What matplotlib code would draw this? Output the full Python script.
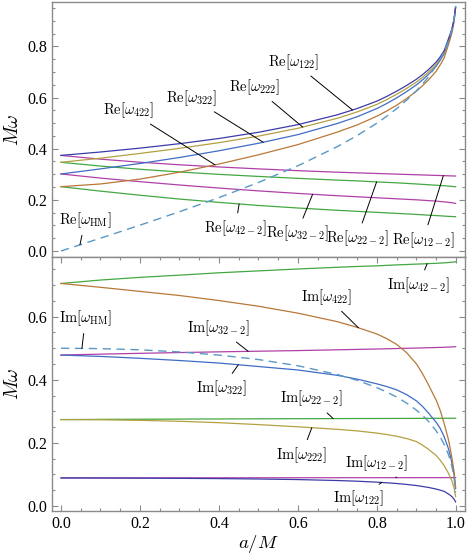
import numpy as np
import matplotlib
matplotlib.use('Agg')
import matplotlib.pyplot as plt
from matplotlib.ticker import MultipleLocator, FormatStrFormatter

plt.rcParams.update({
    'font.family': 'serif',
    'font.serif': ['Liberation Serif', 'DejaVu Serif'],
    'mathtext.fontset': 'cm',
    'font.size': 11,
})

# ── Data ──────────────────────────────────────────────────────────────────────
a_vals = [0.0, 0.1, 0.2, 0.3, 0.4, 0.5, 0.6, 0.7, 0.75, 0.8, 0.825, 0.85, 0.875, 0.9,
          0.915, 0.93, 0.95, 0.96, 0.97, 0.98, 0.985, 0.99, 0.995, 0.999]

# real parts, co-rotating (m = 2)
re_122 = [0.3737, 0.3870, 0.4021, 0.4195, 0.4398, 0.4641, 0.4940, 0.5326, 0.5570, 0.5860,
          0.6045, 0.6248, 0.6470, 0.6716, 0.6890, 0.7086, 0.7386, 0.7590, 0.7830, 0.8254,
          0.8470, 0.8710, 0.9050, 0.9540]
re_222 = [0.3467, 0.3627, 0.3814, 0.4013, 0.4235, 0.4490, 0.4797, 0.5190, 0.5438, 0.5733,
          0.5920, 0.6128, 0.6355, 0.6606, 0.6785, 0.6986, 0.7296, 0.7512, 0.7755, 0.8194,
          0.8420, 0.8670, 0.9025, 0.9530]
re_322 = [0.3011, 0.3210, 0.3421, 0.3655, 0.3918, 0.4211, 0.4550, 0.4986, 0.5250, 0.5570,
          0.5768, 0.5988, 0.6230, 0.6496, 0.6686, 0.6896, 0.7226, 0.7455, 0.7710, 0.8154,
          0.8385, 0.8640, 0.9010, 0.9520]
re_422 = [0.2515, 0.2620, 0.2810, 0.3080, 0.3400, 0.3760, 0.4160, 0.4650, 0.4930, 0.5270,
          0.5475, 0.5700, 0.5960, 0.6250, 0.6455, 0.6680, 0.7030, 0.7275, 0.7550, 0.8020,
          0.8270, 0.8540, 0.8950, 0.9500]
re_hm = [0.0, 0.0501, 0.1010, 0.1535, 0.2087, 0.2679, 0.3333, 0.4084, 0.4514, 0.5000,
         0.5271, 0.5567, 0.5896, 0.6268, 0.6520, 0.6800, 0.7240, 0.7500, 0.7803, 0.8173,
         0.8400, 0.8676, 0.9046, 0.9562]

# real parts, counter-rotating (m = -2)
re_12m2 = [0.3737, 0.3590, 0.3470, 0.3370, 0.3285, 0.3210, 0.3140, 0.3080, 0.3055, 0.3030,
           0.3018, 0.3005, 0.2992, 0.2980, 0.2972, 0.2965, 0.2955, 0.2950, 0.2945, 0.2940,
           0.2937, 0.2935, 0.2932, 0.2930]
re_22m2 = [0.3467, 0.3320, 0.3195, 0.3090, 0.2995, 0.2915, 0.2840, 0.2770, 0.2740, 0.2700,
           0.2683, 0.2665, 0.2643, 0.2620, 0.2605, 0.2590, 0.2570, 0.2560, 0.2550, 0.2540,
           0.2532, 0.2525, 0.2518, 0.2510]
re_32m2 = [0.3011, 0.2850, 0.2710, 0.2580, 0.2460, 0.2350, 0.2250, 0.2160, 0.2120, 0.2080,
           0.2060, 0.2040, 0.2020, 0.2000, 0.1985, 0.1970, 0.1950, 0.1935, 0.1920, 0.1905,
           0.1895, 0.1885, 0.1872, 0.1860]
re_42m2 = [0.2515, 0.2340, 0.2180, 0.2030, 0.1900, 0.1780, 0.1680, 0.1590, 0.1550, 0.1510,
           0.1490, 0.1470, 0.1450, 0.1430, 0.1415, 0.1400, 0.1385, 0.1375, 0.1365, 0.1355,
           0.1351, 0.1347, 0.1343, 0.1340]

# imaginary parts, co-rotating
im_122 = [0.0890, 0.0887, 0.0883, 0.0877, 0.0869, 0.0856, 0.0838, 0.0808, 0.0786, 0.0756,
          0.0736, 0.0713, 0.0684, 0.0649, 0.0620, 0.0590, 0.0537, 0.0503, 0.0465, 0.0388,
          0.0345, 0.0294, 0.0220, 0.0130]
im_222 = [0.2739, 0.2733, 0.2715, 0.2685, 0.2640, 0.2580, 0.2510, 0.2430, 0.2380, 0.2310,
          0.2265, 0.2210, 0.2140, 0.2040, 0.1930, 0.1800, 0.1600, 0.1450, 0.1280, 0.1060,
          0.0930, 0.0780, 0.0580, 0.0300]
im_322 = [0.4783, 0.4740, 0.4680, 0.4610, 0.4530, 0.4420, 0.4310, 0.4140, 0.4020, 0.3870,
          0.3785, 0.3680, 0.3530, 0.3330, 0.3160, 0.2950, 0.2650, 0.2460, 0.2200, 0.1850,
          0.1630, 0.1350, 0.1000, 0.0550]
im_422 = [0.7051, 0.6930, 0.6800, 0.6670, 0.6510, 0.6330, 0.6110, 0.5840, 0.5660, 0.5450,
          0.5300, 0.5120, 0.4860, 0.4500, 0.4200, 0.3850, 0.3350, 0.3030, 0.2620, 0.2150,
          0.1850, 0.1500, 0.1100, 0.0600]
im_hm = [0.5000, 0.4987, 0.4949, 0.4882, 0.4782, 0.4641, 0.4444, 0.4166, 0.3981, 0.3750,
         0.3611, 0.3450, 0.3262, 0.3036, 0.2875, 0.2688, 0.2380, 0.2188, 0.1956, 0.1660,
         0.1472, 0.1236, 0.0908, 0.0428]

# imaginary parts, counter-rotating
im_12m2 = [0.0890, 0.0891, 0.0892, 0.0893, 0.0894, 0.0895, 0.0896, 0.0897, 0.0897, 0.0898,
           0.0898, 0.0898, 0.0898, 0.0899, 0.0899, 0.0899, 0.0899, 0.0900, 0.0900, 0.0900,
           0.0900, 0.0900, 0.0900, 0.0900]
im_22m2 = [0.2739, 0.2745, 0.2750, 0.2755, 0.2759, 0.2763, 0.2767, 0.2770, 0.2772, 0.2773,
           0.2774, 0.2775, 0.2776, 0.2777, 0.2777, 0.2778, 0.2779, 0.2779, 0.2780, 0.2780,
           0.2780, 0.2781, 0.2781, 0.2781]
im_32m2 = [0.4783, 0.4812, 0.4838, 0.4862, 0.4885, 0.4905, 0.4925, 0.4950, 0.4962, 0.4975,
           0.4982, 0.4990, 0.4998, 0.5005, 0.5010, 0.5015, 0.5022, 0.5026, 0.5030, 0.5035,
           0.5038, 0.5040, 0.5045, 0.5050]
im_42m2 = [0.7051, 0.7160, 0.7245, 0.7315, 0.7390, 0.7450, 0.7510, 0.7565, 0.7590, 0.7610,
           0.7625, 0.7640, 0.7652, 0.7665, 0.7672, 0.7680, 0.7690, 0.7698, 0.7705, 0.7715,
           0.7720, 0.7725, 0.7730, 0.7740]

# ── Colours ───────────────────────────────────────────────────────────────────
c_n0 = '#3c3ca8'
c_n1 = '#b4a040'
c_n2 = '#3f6cc4'
c_n3 = '#b87838'
c_pink = '#b040a8'
c_green = '#42a842'
c_hm = '#5a98c6'

re_series = [(re_12m2, c_pink), (re_22m2, c_green), (re_32m2, c_pink), (re_42m2, c_green),
             (re_422, c_n3), (re_322, c_n2), (re_222, c_n1), (re_122, c_n0)]
im_series = [(im_12m2, c_pink), (im_22m2, c_green), (im_32m2, c_pink), (im_42m2, c_green),
             (im_122, c_n0), (im_222, c_n1), (im_322, c_n2), (im_422, c_n3)]

# label text, series, a at pointer tip, text position (a, y)
re_labels = [
    (r'$\mathrm{Re}[\omega_{122}]$', re_122, 0.738, (0.588, 0.740)),
    (r'$\mathrm{Re}[\omega_{222}]$', re_222, 0.612, (0.491, 0.641)),
    (r'$\mathrm{Re}[\omega_{322}]$', re_322, 0.512, (0.331, 0.599)),
    (r'$\mathrm{Re}[\omega_{422}]$', re_422, 0.390, (0.170, 0.551)),
    (r'$\mathrm{Re}[\omega_{\mathrm{HM}}]$', re_hm, 0.048, (0.061, 0.121)),
    (r'$\mathrm{Re}[\omega_{42-2}]$', re_42m2, 0.451, (0.441, 0.089)),
    (r'$\mathrm{Re}[\omega_{32-2}]$', re_32m2, 0.637, (0.597, 0.069)),
    (r'$\mathrm{Re}[\omega_{22-2}]$', re_22m2, 0.799, (0.749, 0.050)),
    (r'$\mathrm{Re}[\omega_{12-2}]$', re_12m2, 0.968, (0.917, 0.043)),
]
im_labels = [
    (r'$\mathrm{Im}[\omega_{\mathrm{HM}}]$', im_hm, 0.053, (0.062, 0.595)),
    (r'$\mathrm{Im}[\omega_{42-2}]$', im_42m2, 0.927, (0.905, 0.700)),
    (r'$\mathrm{Im}[\omega_{422}]$', im_422, 0.753, (0.673, 0.663)),
    (r'$\mathrm{Im}[\omega_{32-2}]$', im_32m2, 0.474, (0.398, 0.565)),
    (r'$\mathrm{Im}[\omega_{322}]$', im_322, 0.449, (0.407, 0.373)),
    (r'$\mathrm{Im}[\omega_{22-2}]$', im_22m2, 0.689, (0.635, 0.341)),
    (r'$\mathrm{Im}[\omega_{222}]$', im_222, 0.635, (0.609, 0.162)),
    (r'$\mathrm{Im}[\omega_{12-2}]$', im_12m2, 0.850, (0.799, 0.137)),
    (r'$\mathrm{Im}[\omega_{122}]$', im_122, 0.812, (0.753, 0.024)),
]

# ── Figure ────────────────────────────────────────────────────────────────────
fig = plt.figure(figsize=(4.67, 5.54), dpi=100)
ax_re = fig.add_axes([0.1113, 0.5361, 0.8844, 0.4603])
ax_im = fig.add_axes([0.1113, 0.0776, 0.8844, 0.4585])

frame = '#8a8a8a'


def style(ax, ylim, show_x):
    ax.set_xlim(-0.0228, 1.0228)
    ax.set_ylim(*ylim)
    for s in ax.spines.values():
        s.set_color(frame)
        s.set_linewidth(1.0)
    ax.xaxis.set_major_locator(MultipleLocator(0.2))
    ax.xaxis.set_minor_locator(MultipleLocator(0.05))
    ax.yaxis.set_major_locator(MultipleLocator(0.2))
    ax.yaxis.set_minor_locator(MultipleLocator(0.05))
    ax.yaxis.set_major_formatter(FormatStrFormatter('%.1f'))
    ax.xaxis.set_major_formatter(FormatStrFormatter('%.1f'))
    ax.tick_params(which='both', direction='in', color=frame, width=0.8,
                   labelsize=11.5, right=True, left=True,
                   top=show_x, bottom=show_x, labelbottom=show_x)
    ax.tick_params(which='major', length=4.5)
    ax.tick_params(which='minor', length=2.5)
    ax.set_ylabel(r'$M\omega$', fontsize=14, labelpad=4)


for vals, col in re_series:
    ax_re.plot(a_vals, vals, color=col, lw=0.9)
ax_re.plot(a_vals, re_hm, color=c_hm, lw=1.0, dashes=(6, 4))

for vals, col in im_series:
    ax_im.plot(a_vals, vals, color=col, lw=0.9)
ax_im.plot(a_vals, im_hm, color=c_hm, lw=1.0, dashes=(6, 4))

style(ax_re, (-0.0235, 0.9734), False)
style(ax_im, (-0.0158, 0.789), True)
ax_im.set_xlabel(r'$a/M$', fontsize=13.5, va='center')
ax_im.xaxis.set_label_coords(0.5, -0.128)

for ax, labels in [(ax_re, re_labels), (ax_im, im_labels)]:
    for txt, series, a_tip, (tx, ty) in labels:
        y_tip = np.interp(a_tip, a_vals, series)
        ax.annotate(txt, xy=(a_tip, y_tip), xytext=(tx, ty),
                    ha='center', va='center', fontsize=10.5,
                    arrowprops=dict(arrowstyle='-', color='black', lw=0.7,
                                    shrinkA=2, shrinkB=0))

fig.savefig('out.png', dpi=100)
